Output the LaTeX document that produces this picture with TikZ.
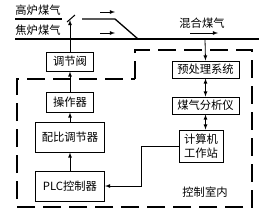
\documentclass[tikz,border=0pt]{standalone}
\usepackage{fontspec}
\newfontfamily\cjk{Noto Sans CJK SC}
\usetikzlibrary{arrows}

\tikzset{box/.style={draw,line width=1pt,inner sep=0pt,align=center},
         gas/.style={line width=1.3pt},
         frame/.style={line width=1.2pt,dash pattern=on 18pt off 8pt}}

\begin{document}
\begin{tikzpicture}[x=1pt,y=-1pt,font=\cjk\fontsize{11.3}{13.5}\selectfont]
\useasboundingbox (0,0) rectangle (259,220);

% left column
\node[box,minimum width=47pt,minimum height=19pt] (V1) at (70,61.5) {调节阀};
\node[box,minimum width=47pt,minimum height=20pt] (C1) at (70,102) {操作器};
\node[box,minimum width=69pt,minimum height=30pt] (R1) at (70,137) {配比调节器};
\node[box,minimum width=69pt,minimum height=30pt] (P1) at (70,186) {PLC控制器};

% right column
\node[box,minimum width=67pt,minimum height=17pt] (S1) at (205.5,69.5) {预处理系统};
\node[box,minimum width=67pt,minimum height=17pt] (A1) at (205.5,105.5) {煤气分析仪};
\node[box,minimum width=44pt,minimum height=32pt] (W1) at (201,146) {计算机\\工作站};

% labels
\node[] (G1) at (38,10) {高炉煤气};
\node[] (G2) at (38,30) {焦炉煤气};
\node[] (G3) at (202,23) {混合煤气};
\node[] (K1) at (205,192) {控制室内};

% gas lines
\coordinate (L1) at (15,19);
\coordinate (L2) at (62,19);
\coordinate (L3) at (82,19);
\coordinate (L4) at (115,19);
\coordinate (L5) at (15,39);
\coordinate (L6) at (259,39);
\coordinate (M1) at (138,39);
\coordinate (M2) at (205,39);
\coordinate (Q1) at (67,22);
\coordinate (Q2) at (75,15);
\coordinate (Q0) at (70,20);

\draw[gas] (L1) -- (L2);
\draw[gas] (L3) -- (L4) -- (M1);
\draw[gas] (L5) -- (L6);
\draw[line width=1pt] (Q1) -- (Q2);

% flow arrows
\coordinate (F1) at (100,12);
\coordinate (F2) at (115,12);
\coordinate (F3) at (100,33);
\coordinate (F4) at (115,33);
\coordinate (F5) at (190,33);
\coordinate (F6) at (218,33);
\path[->, >=latex,line width=0.8pt] (F1) edge [] node[]{} (F2);
\path[->, >=latex,line width=0.8pt] (F3) edge [] node[]{} (F4);
\path[->, >=latex,line width=0.8pt] (F5) edge [] node[]{} (F6);

% signal arrows
\path[->, >=latex,line width=0.8pt] (V1) edge [] node[]{} (Q0);
\path[->, >=latex,line width=0.8pt] (C1) edge [] node[]{} (V1);
\path[->, >=latex,line width=0.8pt] (R1) edge [] node[]{} (C1);
\path[->, >=latex,line width=0.8pt] (P1) edge [] node[]{} (R1);

\path[->, >=latex,line width=0.8pt] (M2) edge [] node[]{} (S1.north);
\path[<->, >=latex,line width=0.8pt] (S1) edge [] node[]{} (A1);
\path[<->, >=latex,line width=0.8pt] (A1.south) edge [] node[]{} (A1.south |- W1.north);

\draw[->, >=latex,line width=0.8pt] (W1.west) -- ++(-37,0) |- (P1.east);

% control room
\draw[frame] (135,79) -- (135,50) -- (252,50) -- (252,207) -- (17,207) -- (17,79) -- cycle;
\end{tikzpicture}
\end{document}
